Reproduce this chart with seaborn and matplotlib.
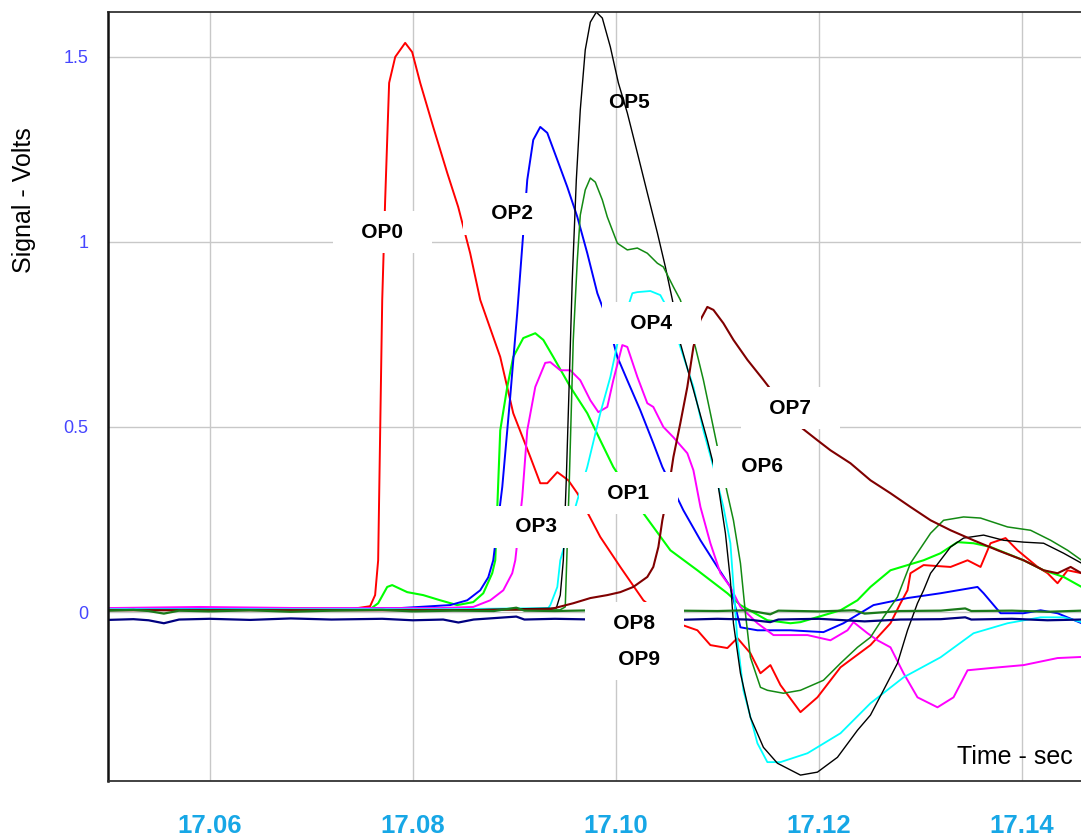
import matplotlib
matplotlib.use('Agg')
import matplotlib.pyplot as plt
import numpy as np
import pandas as pd
import seaborn as sns

# times are milliseconds after 17.05 s, values in volts
T0 = 17.05

op0_ms = [0, 4.14, 9.06, 13.99, 18.92, 23.84, 25.81, 26.30, 26.60, 27.00,
          27.29, 27.68, 28.28, 29.26, 29.95, 30.74, 32.02, 33.40, 34.48, 35.66,
          36.65, 38.62, 39.90, 41.58, 42.56, 43.25, 44.24, 45.32, 46.21, 48.47,
          50.44, 52.71, 55.00, 58.03, 59.31, 60.98, 61.97, 63.25, 64.24, 65.22,
          66.21, 68.18, 69.85, 72.12, 75.07, 77.04, 78.03, 78.72, 79.01, 80.30,
          82.96, 84.63, 85.91, 86.89, 88.37, 89.55, 91.53, 92.51, 93.49, 94.48,
          95.86]
op0_v = [0.008, 0.011, 0.005, 0.008, 0.005, 0.008, 0.016, 0.046, 0.140, 0.843,
         1.113, 1.429, 1.499, 1.537, 1.512, 1.429, 1.310, 1.186, 1.094, 0.969,
         0.843, 0.689, 0.537, 0.419, 0.348, 0.348, 0.378, 0.356, 0.321, 0.203,
         0.122, 0.032, -0.020, -0.049, -0.089, -0.097, -0.070, -0.111, -0.165, -0.143,
         -0.197, -0.270, -0.230, -0.149, -0.089, -0.030, 0.024, 0.059, 0.105, 0.127,
         0.122, 0.140, 0.122, 0.186, 0.200, 0.167, 0.122, 0.105, 0.078, 0.113,
         0.105]

op1_ms = [0, 9.06, 18.92, 25.81, 26.60, 27.49, 27.98, 29.46, 31.03, 32.71,
          34.38, 35.96, 36.95, 37.83, 38.13, 38.62, 39.31, 39.90, 40.89, 42.07,
          42.86, 43.84, 45.52, 47.19, 48.47, 49.75, 52.71, 55.37, 58.03, 60.98,
          62.27, 64.92, 67.19, 68.18, 72.12, 73.79, 75.07, 77.04, 80.30, 81.97,
          83.64, 85.22, 86.89, 90.15, 92.12, 94.09, 95.86]
op1_v = [0.011, 0.008, 0.011, 0.008, 0.024, 0.068, 0.073, 0.054, 0.046, 0.032,
         0.019, 0.027, 0.051, 0.105, 0.140, 0.491, 0.608, 0.689, 0.740, 0.753,
         0.735, 0.689, 0.608, 0.537, 0.464, 0.392, 0.267, 0.167, 0.113, 0.051,
         0.019, -0.022, -0.030, -0.027, 0.005, 0.032, 0.068, 0.113, 0.140, 0.159,
         0.189, 0.186, 0.176, 0.140, 0.113, 0.095, 0.068]

op2_ms = [0, 9.06, 18.92, 28.77, 33.69, 35.37, 36.65, 37.44, 37.93, 38.82,
          39.60, 40.29, 41.28, 41.87, 42.56, 43.25, 44.24, 45.22, 46.21, 47.19,
          48.18, 49.16, 50.15, 51.13, 52.41, 53.69, 54.58, 56.65, 58.33, 60.00,
          61.28, 62.27, 63.94, 67.19, 70.44, 72.41, 75.37, 78.72, 81.97, 85.61,
          86.21, 87.88, 90.15, 91.82, 93.49, 95.86]
op2_v = [0.008, 0.011, 0.008, 0.011, 0.019, 0.032, 0.059, 0.094, 0.140, 0.338,
         0.581, 0.807, 1.167, 1.275, 1.310, 1.294, 1.221, 1.148, 1.067, 0.969,
         0.861, 0.789, 0.689, 0.626, 0.545, 0.456, 0.392, 0.275, 0.194, 0.122,
         0.068, -0.041, -0.049, -0.049, -0.054, -0.030, 0.019, 0.038, 0.051, 0.068,
         0.051, -0.003, -0.003, 0.005, -0.003, -0.030]

op3_ms = [0, 9.06, 18.92, 30.44, 32.71, 35.96, 37.64, 38.92, 39.80, 40.10,
          40.79, 41.28, 42.07, 43.05, 43.55, 44.53, 45.52, 46.50, 47.49, 48.28,
          49.16, 49.75, 50.64, 51.13, 52.12, 53.10, 53.69, 54.68, 55.67, 57.04,
          57.64, 58.33, 59.31, 60.30, 61.28, 62.27, 63.94, 65.52, 68.87, 71.13,
          72.81, 73.40, 74.78, 75.76, 77.04, 78.33, 79.70, 81.67, 83.25, 84.63,
          86.89, 90.15, 93.49, 95.86]
op3_v = [0.011, 0.014, 0.011, 0.011, 0.011, 0.014, 0.032, 0.059, 0.105, 0.140,
         0.311, 0.491, 0.608, 0.673, 0.675, 0.653, 0.653, 0.626, 0.572, 0.540,
         0.554, 0.626, 0.721, 0.716, 0.635, 0.564, 0.554, 0.500, 0.472, 0.429,
         0.383, 0.284, 0.186, 0.105, 0.068, 0.014, -0.030, -0.062, -0.062, -0.076,
         -0.049, -0.027, -0.057, -0.076, -0.095, -0.165, -0.230, -0.257, -0.230, -0.157,
         -0.151, -0.143, -0.124, -0.121]

op4_ms = [0, 18.92, 33.69, 43.35, 43.55, 44.24, 44.53, 46.21, 47.19, 48.47,
          49.46, 50.44, 51.63, 52.12, 53.40, 54.38, 55.17, 56.35, 57.64, 58.62,
          59.61, 60.59, 61.28, 61.97, 62.56, 63.94, 64.92, 66.21, 68.87, 72.12,
          75.07, 78.33, 81.97, 85.22, 88.57, 91.82, 94.09, 95.86]
op4_v = [0.008, 0.008, 0.008, 0.011, 0.019, 0.068, 0.140, 0.302, 0.392, 0.537,
         0.635, 0.761, 0.861, 0.864, 0.867, 0.856, 0.816, 0.716, 0.608, 0.491,
         0.392, 0.284, 0.186, -0.076, -0.211, -0.354, -0.405, -0.405, -0.381, -0.327,
         -0.246, -0.176, -0.122, -0.057, -0.030, -0.014, -0.014, -0.027]

op5_ms = [0, 18.92, 33.69, 44.14, 44.53, 44.83, 45.12, 45.42, 45.71, 46.11,
          46.50, 46.99, 47.49, 48.08, 48.67, 49.46, 50.25, 51.13, 52.12, 53.10,
          54.09, 54.88, 55.57, 56.35, 57.64, 59.01, 60.00, 60.79, 61.28, 61.58,
          62.27, 63.25, 64.53, 65.91, 68.18, 69.85, 71.82, 73.79, 75.07, 76.35,
          77.73, 78.72, 79.70, 80.30, 80.99, 82.96, 84.24, 86.21, 88.18, 90.15,
          92.12, 94.09, 95.86]
op5_v = [0.005, 0.005, 0.005, 0.011, 0.046, 0.140, 0.356, 0.627, 0.897, 1.167,
         1.356, 1.518, 1.593, 1.620, 1.604, 1.526, 1.429, 1.348, 1.240, 1.132,
         1.024, 0.932, 0.843, 0.726, 0.600, 0.464, 0.356, 0.213, 0.086, -0.030,
         -0.165, -0.284, -0.365, -0.408, -0.440, -0.432, -0.392, -0.319, -0.278, -0.211,
         -0.138, -0.049, 0.024, 0.059, 0.105, 0.176, 0.200, 0.208, 0.194, 0.189,
         0.186, 0.159, 0.132]

op6_ms = [0, 18.92, 33.69, 44.50, 45.02, 45.42, 45.81, 46.21, 46.50, 46.99,
          47.49, 47.98, 48.67, 49.16, 50.15, 51.13, 52.12, 53.10, 54.09, 54.68,
          55.67, 56.35, 57.83, 58.62, 59.31, 60.00, 60.98, 61.58, 62.27, 62.76,
          63.25, 64.24, 64.92, 66.50, 68.18, 70.44, 72.12, 73.79, 75.07, 76.35,
          77.73, 79.01, 80.99, 82.27, 84.24, 85.91, 88.57, 90.84, 92.81, 94.48,
          95.86]
op6_v = [0.006, 0.005, 0.006, 0.006, 0.014, 0.356, 0.735, 0.951, 1.072, 1.140,
         1.172, 1.161, 1.113, 1.067, 0.996, 0.978, 0.983, 0.969, 0.942, 0.932,
         0.878, 0.843, 0.716, 0.627, 0.537, 0.446, 0.321, 0.248, 0.132, -0.003,
         -0.122, -0.203, -0.211, -0.219, -0.211, -0.184, -0.138, -0.095, -0.068, -0.014,
         0.041, 0.132, 0.213, 0.248, 0.257, 0.254, 0.230, 0.221, 0.194, 0.167,
         0.140]

op7_ms = [0, 18.92, 33.69, 43.55, 45.81, 47.49, 49.16, 50.44, 51.72, 53.10,
          53.69, 54.19, 54.58, 55.17, 55.67, 56.35, 57.04, 57.64, 58.33, 59.01,
          59.61, 60.59, 61.58, 62.96, 64.53, 66.21, 68.18, 69.85, 71.13, 73.10,
          75.07, 77.04, 79.01, 80.99, 82.96, 85.22, 87.59, 90.15, 92.12, 93.49,
          94.78, 95.86]
op7_v = [0.005, 0.005, 0.005, 0.008, 0.024, 0.038, 0.046, 0.054, 0.068, 0.095,
         0.122, 0.176, 0.248, 0.329, 0.419, 0.510, 0.608, 0.716, 0.789, 0.824,
         0.816, 0.780, 0.735, 0.681, 0.627, 0.567, 0.500, 0.464, 0.437, 0.402,
         0.356, 0.321, 0.284, 0.248, 0.221, 0.194, 0.167, 0.140, 0.113, 0.105,
         0.122, 0.105]

op8_ms = [0, 2.5, 4, 5.5, 7, 10, 14, 18, 22, 27,
          30, 34, 38, 40.2, 41, 44, 48, 52, 56, 60,
          63, 65.2, 66, 70, 73.5, 74.5, 78, 82, 84.4, 85,
          89, 92.5, 95.86]
op8_v = [0.004, 0.006, 0.003, -0.004, 0.004, 0.002, 0.005, 0.001, 0.004, 0.006,
         0.002, 0.004, 0.003, 0.012, 0.004, 0.003, 0.005, 0.003, 0.004, 0.003,
         0.005, -0.006, 0.004, 0.002, 0.005, -0.004, 0.003, 0.004, 0.010, 0.003,
         0.004, 0.001, 0.004]

op9_ms = [0, 2.5, 4, 5.5, 7, 10, 14, 18, 22, 27,
          30, 33, 34.5, 36, 40.2, 41, 44, 48, 52, 56,
          60, 63, 65.2, 66, 70, 74.5, 78, 82, 84.4, 85,
          89, 92.5, 95.86]
op9_v = [-0.021, -0.019, -0.022, -0.030, -0.020, -0.018, -0.021, -0.017, -0.020, -0.018,
         -0.022, -0.020, -0.028, -0.020, -0.012, -0.020, -0.018, -0.020, -0.019, -0.021,
         -0.018, -0.020, -0.027, -0.020, -0.018, -0.025, -0.020, -0.019, -0.014, -0.020,
         -0.018, -0.022, -0.020]

channels = ['OP0', 'OP1', 'OP2', 'OP3', 'OP4', 'OP5', 'OP6', 'OP7', 'OP8', 'OP9']
traces = [(op0_ms, op0_v), (op1_ms, op1_v), (op2_ms, op2_v), (op3_ms, op3_v),
          (op4_ms, op4_v), (op5_ms, op5_v), (op6_ms, op6_v), (op7_ms, op7_v),
          (op8_ms, op8_v), (op9_ms, op9_v)]
colors = ['#ff0000', '#00ff00', '#0000ff', '#ff00ff', '#00ffff',
          '#000000', '#138a13', '#800000', '#1a7a1a', '#000080']
widths = [1.4, 1.5, 1.4, 1.4, 1.3, 1.0, 1.1, 1.5, 1.6, 1.6]

frames = []
for name, (ms, v) in zip(channels, traces):
    frames.append(pd.DataFrame({'time': T0 + np.array(ms) / 1000.0,
                                'volts': v, 'channel': name}))
df = pd.concat(frames, ignore_index=True)

sns.set_style('white')
plt.rcParams['font.family'] = ['Liberation Sans', 'DejaVu Sans']

fig = plt.figure(figsize=(10.81, 8.39), dpi=100)
ax = fig.add_axes([0.0999, 0.0691, 0.9001, 0.9169])

for name, col, lw in zip(channels, colors, widths):
    sns.lineplot(data=df[df['channel'] == name], x='time', y='volts',
                 color=col, linewidth=lw, sort=False, estimator=None, ax=ax)

ax.set_xlim(17.05, 17.1458)
ax.set_ylim(-0.456, 1.621)

ax.set_xticks([17.06, 17.08, 17.10, 17.12, 17.14])
ax.set_xticklabels(['17.06', '17.08', '17.10', '17.12', '17.14'], fontweight='bold')
ax.set_xticks([17.07, 17.09, 17.11, 17.13], minor=True)
ax.set_yticks([0, 0.5, 1, 1.5])
ax.set_yticklabels(['0', '0.5', '1', '1.5'])
ax.set_yticks([-0.25, 0.25, 0.75, 1.25], minor=True)

ax.tick_params(axis='x', which='major', direction='inout', length=18, width=1.1,
               color='#222222', pad=15, labelsize=18.5, labelcolor='#17a7e6')
ax.tick_params(axis='x', which='minor', direction='inout', length=9.5, width=1.0,
               color='#222222')
ax.tick_params(axis='y', which='major', direction='inout', length=19, width=1.1,
               color='#111111', pad=4.5, labelsize=13, labelcolor='#4646ff')
ax.tick_params(axis='y', which='minor', direction='inout', length=10.5, width=1.0,
               color='#111111')

ax.grid(True, which='major', color='#c8c8c8', linewidth=1.0)
ax.set_axisbelow(True)

ax.spines['right'].set_visible(False)
ax.spines['left'].set_linewidth(1.8)
ax.spines['left'].set_color('#111111')
ax.spines['bottom'].set_linewidth(1.3)
ax.spines['bottom'].set_color('#333333')
ax.spines['top'].set_linewidth(1.2)
ax.spines['top'].set_color('#222222')

ax.set_xlabel('')
ax.set_ylabel('')
fig.text(0.022, 0.762, 'Signal - Volts', rotation=90, ha='center', va='center',
         fontsize=18, color='black')
ax.text(0.992, 0.031, 'Time - sec', transform=ax.transAxes, ha='right', va='center',
        fontsize=18, color='black', zorder=6)

# channel labels: (ms after T0, volts, white box)
label_pos = {'OP0': (27.0, 1.026, True), 'OP2': (39.8, 1.075, True),
             'OP5': (51.33, 1.375, False), 'OP4': (53.5, 0.780, True),
             'OP7': (67.19, 0.551, True), 'OP6': (64.43, 0.392, True),
             'OP1': (51.23, 0.321, True), 'OP3': (42.17, 0.230, True),
             'OP8': (51.82, -0.030, True), 'OP9': (52.32, -0.127, True)}
for name in ['OP0', 'OP2', 'OP5', 'OP4', 'OP7', 'OP6', 'OP1', 'OP3', 'OP8', 'OP9']:
    ms, v, boxed = label_pos[name]
    if boxed:
        ax.text(T0 + ms / 1000.0, v, '   ' + name + '   ', ha='center', va='center',
                fontsize=15, fontweight='bold', color='black', zorder=5,
                bbox=dict(boxstyle='square,pad=0.55', fc='white', ec='none'))
    else:
        ax.text(T0 + ms / 1000.0, v, name, ha='center', va='center',
                fontsize=15, fontweight='bold', color='black', zorder=5)

fig.savefig('out.png', dpi=100)
